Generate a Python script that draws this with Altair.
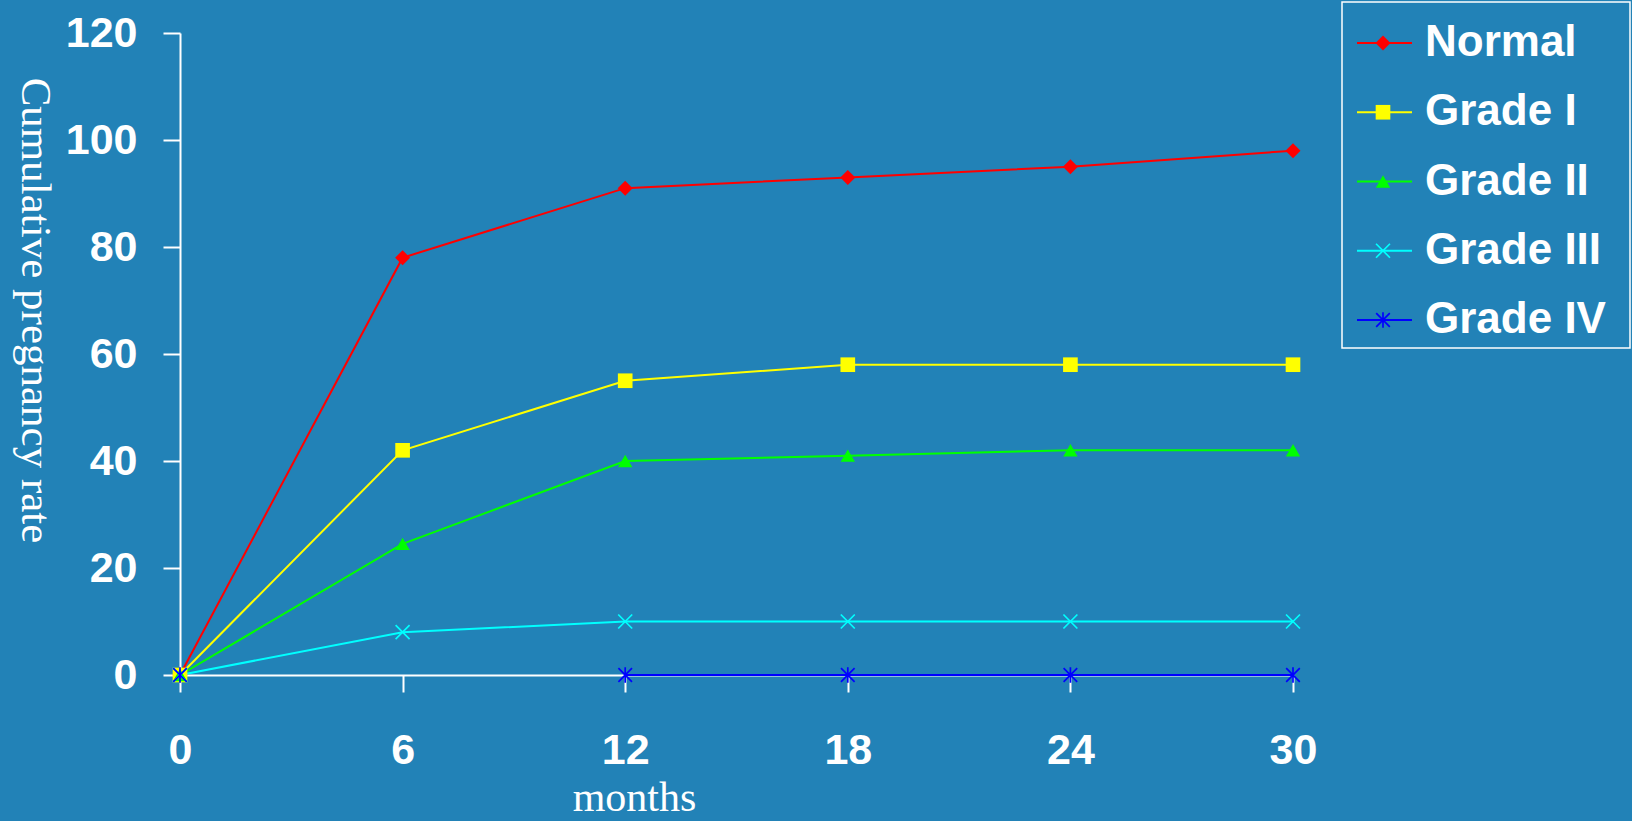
import altair as alt
import pandas as pd

# Follow-up month at which each cumulative rate was recorded
months = [0, 6, 12, 18, 24, 30]

# Series names, drawing colours and marker shapes
series_names = ["Normal", "Grade I", "Grade II", "Grade III", "Grade IV"]
series_colors = ["#ff0000", "#ffff00", "#00ff00", "#00ffff", "#0000ff"]
x_path = "M-1,-1L1,1M-1,1L1,-1"
star_path = "M-1,-1L1,1M-1,1L1,-1M0,-1.15L0,1.15"
series_shapes = ["diamond", "square", "triangle-up", x_path, star_path]
series_sizes = [225, 185, 215, 165, 175]

# Cumulative pregnancy rate (%) per series
normal = [0, 78, 91, 93, 95, 98]
grade_1 = [0, 42, 55, 58, 58, 58]
grade_2 = [0, 24.5, 40, 41, 42, 42]
grade_3 = [0, 8, 10, 10, 10, 10]
grade_4 = [0, None, 0, 0, 0, 0]

y_ticks = [0, 20, 40, 60, 80, 100, 120]

rows = []
for name, vals in zip(series_names, [normal, grade_1, grade_2, grade_3, grade_4]):
    for m, v in zip(months, vals):
        rows.append({"series": name, "month": m, "rate": v})
df = pd.DataFrame(rows)
legend_df = pd.DataFrame({"series": series_names})

BG = "#2282b7"
SANS = "Liberation Sans, Arial, sans-serif"
SERIF = "Liberation Serif, Times New Roman, serif"

color = alt.Color("series:N", scale=alt.Scale(domain=series_names, range=series_colors), legend=None)
shape = alt.Shape("series:N", scale=alt.Scale(domain=series_names, range=series_shapes), legend=None)
size = alt.Size("series:N", scale=alt.Scale(domain=series_names, range=series_sizes), legend=None)

x_enc = alt.X(
    "month:Q",
    scale=alt.Scale(domain=[0, 30], nice=False, zero=False),
    axis=alt.Axis(
        values=months, title="months", labelFlush=False,
        labelPadding=37, titleX=454, titleY=135, titleAlign="center",
        titleBaseline="alphabetic", titleAngle=0, titleFontSize=42,
    ),
)
y_enc = alt.Y(
    "rate:Q",
    scale=alt.Scale(domain=[0, 120], nice=False),
    axis=alt.Axis(
        values=y_ticks, title="Cumulative pregnancy rate", labelFlush=False,
        labelPadding=26, titleX=-159, titleY=277, titleAngle=90,
        titleAlign="center", titleBaseline="alphabetic", titleFontSize=43,
    ),
)

base = alt.Chart(df)
lines = base.mark_line(strokeWidth=2, invalid="break-paths-show-domains").encode(
    x=x_enc, y=y_enc, color=color
)
filled_pts = base.mark_point(filled=True, opacity=1).encode(
    x="month:Q", y="rate:Q", color=color, shape=shape, size=size
).transform_filter(alt.FieldOneOfPredicate(field="series", oneOf=series_names[:3]))
open_pts = base.mark_point(filled=False, opacity=1, strokeWidth=1.7).encode(
    x="month:Q", y="rate:Q", color=color, shape=shape, size=size
).transform_filter(alt.FieldOneOfPredicate(field="series", oneOf=series_names[3:]))

plot = alt.layer(lines, filled_pts, open_pts)

# Legend panel to the right of the plot
ly = alt.Y(
    "series:N",
    scale=alt.Scale(type="point", domain=series_names, range=[10, 287], padding=0),
    axis=None,
)
box = alt.Chart(pd.DataFrame({"panel": [1]})).mark_rect(
    fillOpacity=0, stroke="white", strokeWidth=1.5
).encode(x=alt.value(1162), x2=alt.value(1450), y=alt.value(-31), y2=alt.value(315))
leg_lines = alt.Chart(legend_df).mark_rule(strokeWidth=2).encode(
    x=alt.value(1177), x2=alt.value(1232), y=ly, color=color
)
leg_filled = alt.Chart(legend_df).mark_point(filled=True, opacity=1).encode(
    x=alt.value(1203), y=ly, color=color, shape=shape, size=size
).transform_filter(alt.FieldOneOfPredicate(field="series", oneOf=series_names[:3]))
leg_open = alt.Chart(legend_df).mark_point(filled=False, opacity=1, strokeWidth=1.7).encode(
    x=alt.value(1203), y=ly, color=color, shape=shape, size=size
).transform_filter(alt.FieldOneOfPredicate(field="series", oneOf=series_names[3:]))
leg_text = alt.Chart(legend_df).mark_text(
    align="left", baseline="middle", font=SANS, fontSize=44, fontWeight="bold", color="white"
).encode(x=alt.value(1245), y=ly, text="series:N")

legend = alt.layer(box, leg_lines, leg_filled, leg_open, leg_text)

chart = (
    alt.layer(plot, legend)
    .resolve_scale(y="independent")
    .properties(
        width=1113,
        height=642,
        background=BG,
        autosize=alt.AutoSizeParams(type="none"),
        padding={"left": 180, "top": 33, "right": 339, "bottom": 146},
    )
    .configure_view(stroke="transparent")
    .configure_axis(
        grid=False,
        domainColor="white",
        domainWidth=2,
        tickColor="white",
        tickWidth=2,
        tickSize=17,
        labelColor="white",
        labelFont=SANS,
        labelFontSize=43,
        labelFontWeight="bold",
        titleColor="white",
        titleFont=SERIF,
        titleFontWeight="normal",
    )
)

chart.save("out.html", embed_options={"renderer": "svg", "actions": False})
